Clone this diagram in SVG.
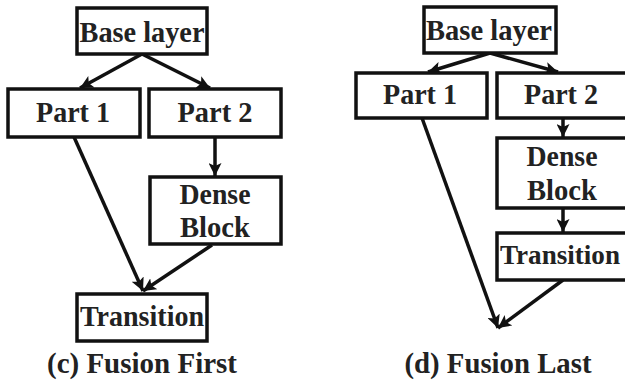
<svg xmlns="http://www.w3.org/2000/svg" width="625" height="381" viewBox="0 0 625 381">
  <style>
    .box { fill: #ffffff; stroke: #111111; stroke-width: 3.5; }
    .lbl { font-family: "Liberation Serif", "Times New Roman", serif; font-weight: bold; font-size: 30px; fill: #222222; text-anchor: middle; }
    .edge { stroke: #111111; stroke-width: 3.5; fill: none; marker-end: url(#arrow); }
  </style>
  <defs>
    <marker id="arrow" markerUnits="userSpaceOnUse" markerWidth="14" markerHeight="13" refX="13" refY="6.5" orient="auto">
      <path d="M0,0 L13,6.5 L0,13 L3,6.5 Z" fill="#111111"/>
    </marker>
  </defs>
  <rect width="625" height="381" fill="#ffffff"/>

  <!-- connectors -->
  <g id="connectors">
    <!-- (c) fusion first -->
    <line class="edge" x1="142" y1="54" x2="80" y2="88"/>
    <line class="edge" x1="142" y1="54" x2="210" y2="88"/>
    <line class="edge" x1="215" y1="137" x2="215" y2="176"/>
    <line class="edge" x1="74" y1="137" x2="143" y2="291"/>
    <line class="edge" x1="212" y1="245" x2="143" y2="291"/>
    <!-- (d) fusion last -->
    <line class="edge" x1="490" y1="53" x2="428" y2="72"/>
    <line class="edge" x1="490" y1="53" x2="558" y2="72"/>
    <line class="edge" x1="563" y1="118" x2="563" y2="137"/>
    <line class="edge" x1="563" y1="208" x2="563" y2="232"/>
    <line class="edge" x1="422" y1="118" x2="498" y2="328"/>
    <line class="edge" x1="563" y1="280" x2="498" y2="328"/>
  </g>

  <!-- (c) nodes -->
  <g id="c-base">
    <rect class="box" x="77" y="8" width="130" height="46"/>
    <text class="lbl" x="142" y="42" textLength="125" lengthAdjust="spacingAndGlyphs">Base layer</text>
  </g>
  <g id="c-part1">
    <rect class="box" x="8" y="89" width="132" height="48"/>
    <text class="lbl" x="73" y="122" textLength="74" lengthAdjust="spacingAndGlyphs">Part 1</text>
  </g>
  <g id="c-part2">
    <rect class="box" x="149" y="89" width="132" height="48"/>
    <text class="lbl" x="215" y="122" textLength="75" lengthAdjust="spacingAndGlyphs">Part 2</text>
  </g>
  <g id="c-dense">
    <rect class="box" x="150" y="177" width="131" height="67"/>
    <text class="lbl" x="215" y="204" textLength="71" lengthAdjust="spacingAndGlyphs">Dense</text>
    <text class="lbl" x="215" y="237" textLength="70" lengthAdjust="spacingAndGlyphs">Block</text>
  </g>
  <g id="c-transition">
    <rect class="box" x="77" y="294" width="130" height="47"/>
    <text class="lbl" x="142" y="326" textLength="124" lengthAdjust="spacingAndGlyphs">Transition</text>
  </g>
  <text class="lbl" x="142" y="373" textLength="190" lengthAdjust="spacingAndGlyphs">(c) Fusion First</text>

  <!-- (d) nodes -->
  <g id="d-base">
    <rect class="box" x="424" y="7" width="132" height="46"/>
    <text class="lbl" x="489" y="40" textLength="126" lengthAdjust="spacingAndGlyphs">Base layer</text>
  </g>
  <g id="d-part1">
    <rect class="box" x="356" y="73" width="131" height="45"/>
    <text class="lbl" x="420" y="104" textLength="74" lengthAdjust="spacingAndGlyphs">Part 1</text>
  </g>
  <g id="d-part2">
    <rect class="box" x="497" y="73" width="132" height="45"/>
    <text class="lbl" x="561" y="104" textLength="74" lengthAdjust="spacingAndGlyphs">Part 2</text>
  </g>
  <g id="d-dense">
    <rect class="box" x="497" y="138" width="132" height="70"/>
    <text class="lbl" x="562" y="166" textLength="71" lengthAdjust="spacingAndGlyphs">Dense</text>
    <text class="lbl" x="562" y="200" textLength="70" lengthAdjust="spacingAndGlyphs">Block</text>
  </g>
  <g id="d-transition">
    <rect class="box" x="497" y="233" width="132" height="47"/>
    <text class="lbl" x="560" y="264" style="font-size:28px" textLength="120" lengthAdjust="spacingAndGlyphs">Transition</text>
  </g>
  <text class="lbl" x="498" y="373" textLength="187" lengthAdjust="spacingAndGlyphs">(d) Fusion Last</text>
</svg>
